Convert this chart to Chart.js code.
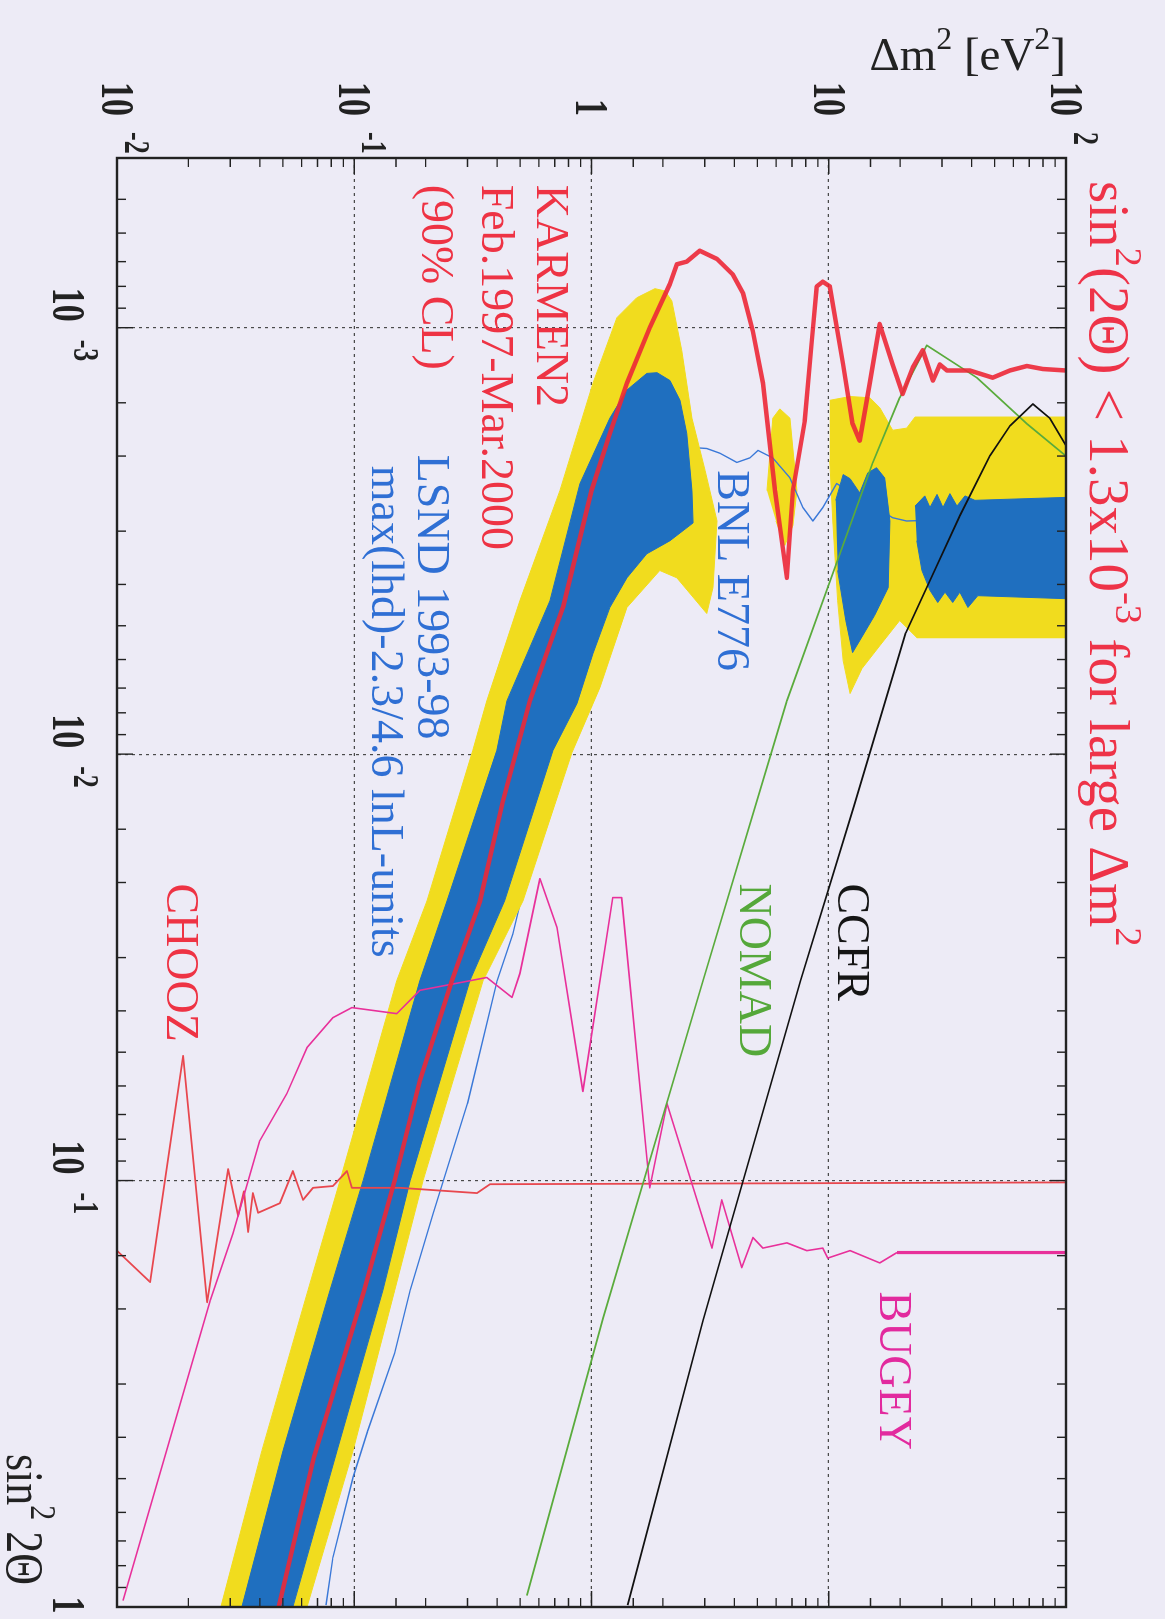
<!DOCTYPE html>
<html>
<head>
<meta charset="utf-8">
<script src="https://cdn.jsdelivr.net/npm/chart.js@4.4.0/dist/chart.umd.min.js"></script>
<style>
  html, body { margin: 0; padding: 0; background: #edebf6; }
  body { width: 1165px; height: 1619px; overflow: hidden; position: relative; }
  /* the plot is drawn landscape and turned a quarter clockwise, like the scan */
  #wrap { position: absolute; left: 0; top: 0; width: 1619px; height: 1165px;
          transform-origin: 0 0; transform: translate(1165px, 0) rotate(90deg); }
</style>
</head>
<body>
<div id="wrap"><canvas id="plot" width="1619" height="1165"></canvas></div>
<script>
// axis ranges: sin^2(2theta) across, dm^2 [eV^2] up
const sinRange = [4e-4, 1];
const dmRange = [0.01, 100];
const sinTicks = [1e-3, 1e-2, 1e-1, 1];
const sinTickLabels = [['10', '-3'], ['10', '-2'], ['10', '-1'], ['1', '']];
const dmTicks = [0.01, 0.1, 1, 10, 100];
const dmTickLabels = [['10', '-2'], ['10', '-1'], ['1', ''], ['10', ''], ['10', '2']];

// points are [sin^2 2theta, dm^2]
const karmen = [[1.0, 0.048], [0.446, 0.0676], [0.181, 0.110], [0.100, 0.148], [0.0583, 0.189], [0.034, 0.258],
  [0.0221, 0.339], [0.0129, 0.423], [0.0075, 0.55], [0.00453, 0.758], [0.00241, 1.0], [0.00177, 1.195],
  [0.00135, 1.41], [0.001, 1.76], [0.00079, 2.14], [0.00071, 2.29], [0.0007, 2.52], [0.00066, 2.86],
  [0.00069, 3.38], [0.00075, 3.94], [0.00083, 4.35], [0.00102, 4.79], [0.00135, 5.28], [0.00241, 5.93],
  [0.00386, 6.66], [0.00241, 7.06], [0.00165, 7.93], [0.00107, 8.49], [0.0008, 8.91], [0.00078, 9.44],
  [0.0008, 10.1], [0.00122, 11.5], [0.00168, 12.6], [0.00184, 13.5], [0.00135, 14.9], [0.00098, 16.4],
  [0.00122, 18.6], [0.00143, 20.5], [0.00124, 22.6], [0.00113, 24.9], [0.00133, 27.5], [0.00122, 29.4],
  [0.00126, 31.5], [0.00126, 39.3], [0.00131, 49.1], [0.00126, 58], [0.00123, 68.4], [0.00125, 79.9], [0.00126, 100]];
const chooz = [[0.146, 0.01], [0.173, 0.0138], [0.051, 0.019], [0.193, 0.024], [0.094, 0.0294], [0.121, 0.0324],
  [0.106, 0.0343], [0.132, 0.0357], [0.107, 0.0374], [0.119, 0.0393], [0.113, 0.0486], [0.095, 0.0551],
  [0.111, 0.0608], [0.104, 0.067], [0.103, 0.0813], [0.095, 0.0932], [0.104, 0.0978], [0.104, 0.156],
  [0.107, 0.329], [0.102, 0.373], [0.101, 100]];
const bugey = [[0.966, 0.0106], [0.191, 0.0247], [0.133, 0.0308], [0.0806, 0.040], [0.0625, 0.052], [0.0488, 0.0632],
  [0.0415, 0.0813], [0.0393, 0.0978], [0.0406, 0.151], [0.0358, 0.189], [0.0334, 0.362], [0.0372, 0.462],
  [0.0327, 0.499], [0.0196, 0.606], [0.0255, 0.715], [0.0618, 0.92], [0.0217, 1.23], [0.0217, 1.34],
  [0.104, 1.76], [0.066, 2.08], [0.144, 3.22], [0.111, 3.54], [0.160, 4.30], [0.136, 4.79], [0.144, 5.28],
  [0.140, 6.66], [0.146, 8.09], [0.144, 9.44], [0.152, 9.91], [0.146, 12.3], [0.156, 16.4], [0.1475, 19.4], [0.1475, 100]];
const nomad = [[0.94, 0.534], [0.21, 1.12], [0.034, 2.95], [0.0075, 6.66], [0.00208, 15.3], [0.00146, 19.9],
  [0.0011, 25.9], [0.00131, 42.1], [0.00168, 68.4], [0.002, 100]];
const ccfr = [[0.99, 1.42], [0.213, 2.95], [0.034, 7.6], [0.0132, 12.8], [0.0052, 21.1], [0.00365, 28.3],
  [0.00276, 35.7], [0.002, 47.7], [0.0017, 58], [0.00151, 72.5], [0.00163, 85.4], [0.00189, 100]];
const bnl = [[0.99, 0.076], [0.766, 0.0813], [0.497, 0.0988], [0.386, 0.114], [0.254, 0.148], [0.181, 0.172],
  [0.1195, 0.215], [0.066, 0.30], [0.034, 0.40], [0.0264, 0.466], [0.0168, 0.566], [0.0102, 0.788],
  [0.0057, 1.09], [0.00324, 1.60], [0.00222, 2.25], [0.00191, 2.68], [0.00192, 3.06], [0.00197, 3.48],
  [0.00207, 4.10], [0.00202, 4.65], [0.00194, 5.03], [0.00202, 5.81], [0.00225, 6.86], [0.00264, 7.78],
  [0.00284, 8.57], [0.00264, 9.44], [0.00232, 10.8], [0.00279, 18.6], [0.00284, 21.3], [0.00276, 100]];

// LSND allowed regions (outlines)
const lsndOuterBand = [[1.0, 0.0274], [0.43, 0.0408], [0.181, 0.0638], [0.1, 0.0871], [0.034, 0.151], [0.0221, 0.2025],
  [0.0098, 0.316], [0.0075, 0.362], [0.00437, 0.499], [0.00241, 0.736], [0.00135, 1.014], [0.000947, 1.28],
  [0.000851, 1.55], [0.00081, 1.85], [0.00082, 2.04], [0.000865, 2.18], [0.00113, 2.40], [0.00163, 2.65],
  [0.00216, 3.01], [0.00284, 3.38], [0.00407, 3.25], [0.00468, 3.06], [0.00386, 2.29], [0.00371, 1.94],
  [0.00453, 1.41], [0.00698, 1.085], [0.00992, 0.827], [0.0221, 0.514], [0.034, 0.349], [0.1, 0.195],
  [0.181, 0.148], [0.43, 0.0988], [1.0, 0.0632]];
const lsndOuterIsland = [[0.00241, 5.49], [0.00163, 5.81], [0.00155, 6.22], [0.00163, 6.86], [0.00241, 7.34],
  [0.00291, 7.06], [0.00324, 6.53], [0.00284, 5.99]];
const lsndOuterHigh = [[0.00148, 10.1], [0.00145, 12.3], [0.00146, 14.9], [0.00154, 16.4], [0.00174, 18.6],
  [0.00172, 21.3], [0.00162, 23.1], [0.00162, 100], [0.00533, 100], [0.00533, 23.5], [0.00486, 19.9],
  [0.00557, 16.4], [0.0063, 13.8], [0.00721, 12.3], [0.00604, 11.5], [0.00437, 10.9], [0.00284, 10.4], [0.00205, 10.1]];
const lsndInnerBand = [[1.0, 0.0336], [0.43, 0.0501], [0.181, 0.079], [0.1, 0.109], [0.034, 0.189], [0.0221, 0.246],
  [0.0098, 0.399], [0.0075, 0.44], [0.00437, 0.668], [0.00232, 0.894], [0.00163, 1.195], [0.0014, 1.41],
  [0.00128, 1.71], [0.001275, 1.89], [0.00133, 2.14], [0.00148, 2.36], [0.00177, 2.52], [0.00241, 2.65],
  [0.00287, 2.68], [0.00316, 2.14], [0.00339, 1.71], [0.00386, 1.41], [0.00453, 1.195], [0.00581, 1.014],
  [0.00761, 0.868], [0.0098, 0.688], [0.0221, 0.43], [0.034, 0.307], [0.1, 0.172], [0.181, 0.132],
  [0.43, 0.0846], [1.0, 0.0551]];
const lsndInnerBlob = [[0.00254, 10.7], [0.00221, 11.5], [0.00226, 12.3], [0.00244, 13.5], [0.00219, 14.6],
  [0.00213, 15.9], [0.00225, 17.2], [0.00284, 18.1], [0.00407, 17.8], [0.00473, 15.6], [0.00542, 13.5],
  [0.00578, 12.6], [0.00486, 11.8], [0.00371, 10.9]];
const lsndInnerHigh = [[0.00262, 23.1], [0.00248, 25.4], [0.00264, 26.7], [0.00246, 28.6], [0.00264, 30.3],
  [0.00245, 32.4], [0.00262, 34.7], [0.00248, 37.5], [0.00254, 41.3], [0.0025, 100], [0.00432, 100],
  [0.00425, 42.5], [0.00453, 38.6], [0.00417, 35.7], [0.00441, 33.3], [0.00417, 30.9], [0.00441, 28.8],
  [0.00413, 26.7], [0.00371, 24.7], [0.00316, 23.5]];

// text placed at [sin^2, dm^2] (left end of baseline)
const notes = [
  { text: 'KARMEN2', at: [4.62e-4, 0.59], color: '#ee3344' },
  { text: 'Feb.1997-Mar.2000', at: [4.62e-4, 0.345], color: '#ee3344' },
  { text: '(90% CL)', at: [4.62e-4, 0.193], color: '#ee3344' },
  { text: 'BNL E776', at: [2.16e-3, 3.41], color: '#2f6fd4' },
  { text: 'LSND 1993-98', at: [1.985e-3, 0.1855], color: '#2f6fd4' },
  { text: 'max(lhd)-2.3/4.6 lnL-units', at: [2.107e-3, 0.1187], color: '#2f6fd4' },
  { text: 'NOMAD', at: [0.0201, 4.22], color: '#55a83a' },
  { text: 'CCFR', at: [0.0201, 10.9], color: '#151515' },
  { text: 'CHOOZ', at: [0.0201, 0.01624], color: '#ee3344' },
  { text: 'BUGEY', at: [0.182, 16.4], color: '#e22a9e' }
];

const SERIF = '"Liberation Serif", "DejaVu Serif", serif';
const YELLOW = '#f1dc1e';
const BLUE = '#1f6fbf';

const toXY = arr => arr.map(p => ({ x: p[0], y: p[1] }));
const isDecade = v => Math.abs(Math.log10(v) - Math.round(Math.log10(v))) < 1e-6;

function curve(label, data, color, width, order) {
  return { label, data: toXY(data), borderColor: color, borderWidth: width, pointRadius: 0,
           fill: false, tension: 0, order, clip: 0, borderJoinStyle: 'round' };
}
function region(label, data, color, order) {
  return { label, data: toXY(data), borderColor: color, backgroundColor: color, borderWidth: 1,
           pointRadius: 0, fill: 'shape', tension: 0, order, clip: 0 };
}

// draw a run of text pieces; a piece is [text, isSuperscript]
function drawRuns(ctx, parts, x, y, opt) {
  const { size, weight = 'normal', align = 'left', stretch = 1, color = '#111', rotate = 0,
          supScale = 0.68, supRise = 0.45 } = opt;
  ctx.save();
  ctx.translate(x, y);
  if (rotate) ctx.rotate(rotate);
  ctx.scale(1, stretch);
  ctx.fillStyle = color;
  ctx.textBaseline = 'alphabetic';
  ctx.textAlign = 'left';
  const fonts = parts.map(p => `${weight} ${p[1] ? size * supScale : size}px ${SERIF}`);
  const widths = parts.map((p, i) => { ctx.font = fonts[i]; return ctx.measureText(p[0]).width; });
  const total = widths.reduce((s, w) => s + w, 0);
  let cx = align === 'right' ? -total : align === 'center' ? -total / 2 : 0;
  parts.forEach((p, i) => {
    ctx.font = fonts[i];
    ctx.fillText(p[0], cx, p[1] ? -size * supRise : 0);
    cx += widths[i];
  });
  ctx.restore();
}

const frameAndText = {
  id: 'frameAndText',
  afterDatasetsDraw(chart) {
    const { ctx, chartArea: a, scales: { x, y } } = chart;
    ctx.save();
    // inward tick marks on all four sides
    ctx.strokeStyle = '#222';
    ctx.lineWidth = 1.4;
    ctx.beginPath();
    x.ticks.forEach(t => {
      const px = x.getPixelForValue(t.value);
      const len = isDecade(t.value) ? 16 : 9;
      ctx.moveTo(px, a.bottom); ctx.lineTo(px, a.bottom - len);
      ctx.moveTo(px, a.top); ctx.lineTo(px, a.top + len);
    });
    y.ticks.forEach(t => {
      const py = y.getPixelForValue(t.value);
      const len = isDecade(t.value) ? 16 : 9;
      ctx.moveTo(a.left, py); ctx.lineTo(a.left + len, py);
      ctx.moveTo(a.right, py); ctx.lineTo(a.right - len, py);
    });
    ctx.stroke();
    ctx.lineWidth = 2.4;
    ctx.strokeRect(a.left, a.top, a.right - a.left, a.bottom - a.top);

    // tick labels, "10" with a raised exponent
    const tick = { size: 34, weight: 'bold', stretch: 1.35, color: '#222' };
    const expo = { size: 26, weight: 'bold', stretch: 1.35, color: '#222' };
    sinTicks.forEach((v, i) => {
      const px = x.getPixelForValue(v);
      const [base, exp] = sinTickLabels[i];
      if (exp) {
        drawRuns(ctx, [[base]], px - 6, a.bottom + 64, { ...tick, align: 'right' });
        drawRuns(ctx, [[exp]], px + 12, a.bottom + 43, { ...expo, align: 'left' });
      } else {
        drawRuns(ctx, [[base]], px - 2, a.bottom + 64, { ...tick, align: 'center' });
      }
    });
    dmTicks.forEach((v, i) => {
      const py = y.getPixelForValue(v);
      const [base, exp] = dmTickLabels[i];
      drawRuns(ctx, [[base]], a.left - 42, py + 15, { ...tick, align: 'right' });
      if (exp) drawRuns(ctx, [[exp]], a.left - 26, py - 8, { ...expo, align: 'left' });
    });

    // axis titles
    drawRuns(ctx, [['sin'], ['2', true], [' 2\u0398']], a.right - 22, a.bottom + 110,
      { size: 44, stretch: 1.2, color: '#222', align: 'right' });
    drawRuns(ctx, [['\u0394m'], ['2', true], [' [eV'], ['2', true], [']']], 70, a.top,
      { size: 47, color: '#222', align: 'right', rotate: -Math.PI / 2 });

    // headline above the plot
    drawRuns(ctx, [['sin'], ['2', true], ['(2\u0398) < 1.3x10'], ['-3', true], [' for large \u0394m'], ['2', true]],
      a.left + 23, a.top - 24, { size: 57, color: '#ee3348' });

    // labels inside the plot
    ctx.beginPath();
    ctx.rect(a.left, a.top, a.right - a.left, a.bottom - a.top);
    ctx.clip();
    notes.forEach(n => {
      drawRuns(ctx, [[n.text]], x.getPixelForValue(n.at[0]), y.getPixelForValue(n.at[1]),
        { size: 46, color: n.color });
    });
    ctx.restore();
  }
};

const gridColor = c => (c.tick && isDecade(c.tick.value) ? '#4a4a4a' : 'rgba(0,0,0,0)');

new Chart(document.getElementById('plot'), {
  type: 'line',
  data: {
    datasets: [
      curve('KARMEN2', karmen, 'rgba(236, 40, 54, 0.9)', 4.5, 0),
      curve('CCFR', ccfr, '#111111', 1.7, 1),
      curve('NOMAD', nomad, '#5aab3c', 1.7, 2),
      Object.assign(curve('BUGEY', bugey, '#e8309a', 1.6, 3), {
        segment: { borderWidth: c => (c.p0.parsed.y >= 19 ? 3.2 : 1.6) }
      }),
      curve('CHOOZ', chooz, '#e8474e', 1.8, 4),
      region('LSND inner', lsndInnerBand, BLUE, 5),
      region('LSND inner blob', lsndInnerBlob, BLUE, 5),
      region('LSND inner high', lsndInnerHigh, BLUE, 5),
      region('LSND outer', lsndOuterBand, YELLOW, 7),
      curve('BNL E776', bnl, '#3a78d8', 1.4, 8),
      region('LSND outer island', lsndOuterIsland, YELLOW, 9),
      region('LSND outer high', lsndOuterHigh, YELLOW, 9)
    ]
  },
  options: {
    responsive: false,
    animation: false,
    events: [],
    layout: { padding: { left: 158, top: 99, right: 12, bottom: 117 } },
    scales: {
      x: {
        type: 'logarithmic', min: sinRange[0], max: sinRange[1],
        ticks: { display: false },
        grid: { color: gridColor, lineWidth: 1.2, drawTicks: false },
        border: { display: false, dash: [3, 4] }
      },
      y: {
        type: 'logarithmic', min: dmRange[0], max: dmRange[1],
        ticks: { display: false },
        grid: { color: gridColor, lineWidth: 1.2, drawTicks: false },
        border: { display: false, dash: [3, 4] }
      }
    },
    plugins: { legend: { display: false }, tooltip: { enabled: false } }
  },
  plugins: [frameAndText]
});
</script>
</body>
</html>
